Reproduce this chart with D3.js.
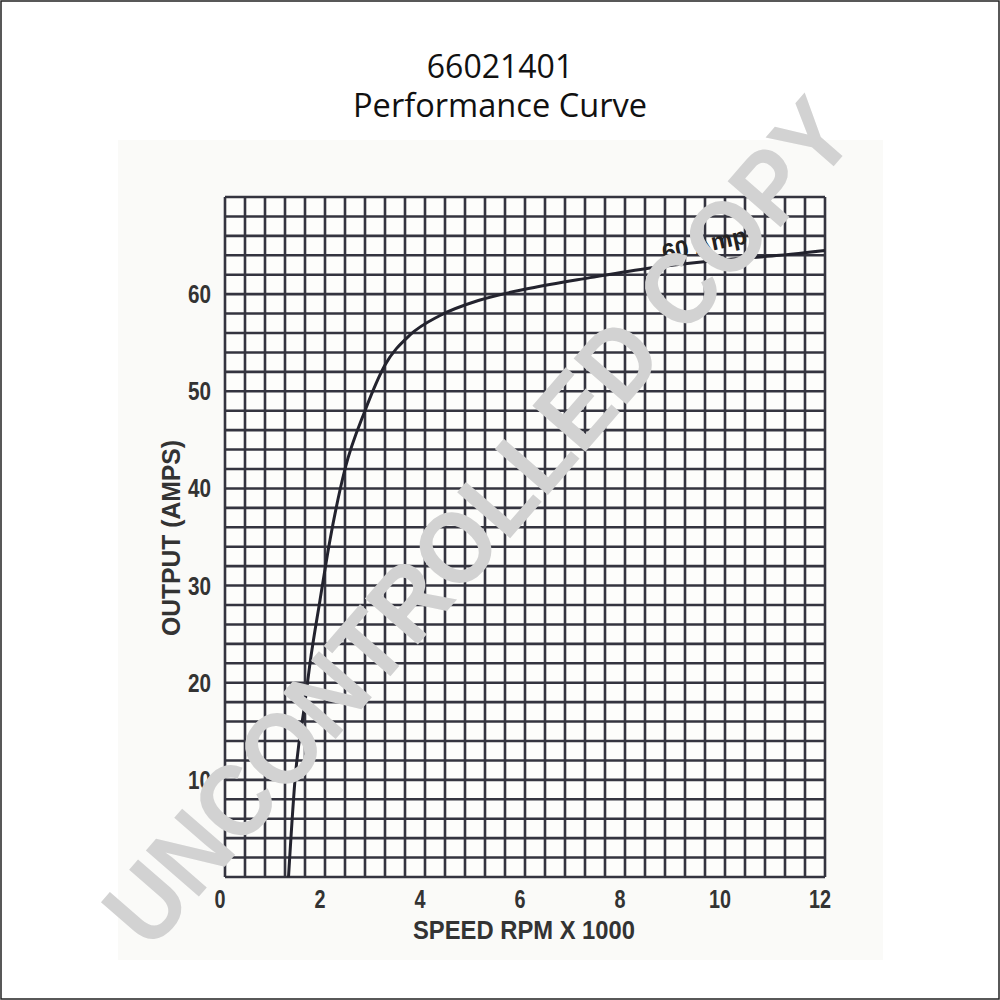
<!DOCTYPE html>
<html>
<head>
<meta charset="utf-8">
<script src="https://cdn.jsdelivr.net/npm/d3@7"></script>
<style>
  html, body { margin: 0; padding: 0; background: #fff; }
  svg { display: block; }
</style>
</head>
<body>
<script>
// ---- data ----
const rpm  = [1.27, 1.4, 1.6, 1.7, 1.9, 2.1, 2.4, 2.8, 3.2, 3.7, 4.3, 5.1, 6.1, 7.3, 8.5, 9.9, 11.1, 12];
const amps = [0, 10, 18, 22, 28.5, 34.7, 42, 48, 52.7, 55.8, 57.8, 59.4, 60.6, 61.7, 62.7, 63.5, 64, 64.5];
const xTicks = [0, 2, 4, 6, 8, 10, 12];
const yTicks = [10, 20, 30, 40, 50, 60];
const title1 = "66021401";
const title2 = "Performance Curve";
const xTitle = "SPEED RPM X 1000";
const yTitle = "OUTPUT (AMPS)";
const curveLabel = "60 Amp";
const watermark = "UNCONTROLLED COPY";

const W = 1000, H = 1000;
const svg = d3.select("body").append("svg").attr("width", W).attr("height", H);

// page border
svg.append("rect").attr("x", 1).attr("y", 1).attr("width", W - 2).attr("height", H - 2)
  .attr("fill", "#fff").attr("stroke", "#222").attr("stroke-width", 1.5);

// scanned paper area
svg.append("rect").attr("x", 118).attr("y", 140).attr("width", 765).attr("height", 820)
  .attr("fill", "#fafaf8");

const x = d3.scaleLinear().domain([0, 12]).range([225, 825]);
const y = d3.scaleLinear().domain([0, 70]).range([877, 197]);

const gridColor = "#34343f";
// grid
const g = svg.append("g");
g.append("rect").attr("x", x(0)).attr("y", y(70)).attr("width", x(12) - x(0)).attr("height", y(0) - y(70))
  .attr("fill", "#fdfdfb");
g.selectAll("line.v").data(d3.range(0, 12.0001, 0.4)).join("line")
  .attr("x1", d => x(d)).attr("x2", d => x(d)).attr("y1", y(0)).attr("y2", y(70))
  .attr("stroke", gridColor).attr("stroke-width", 2.6);
g.selectAll("line.h").data(d3.range(0, 70.0001, 2)).join("line")
  .attr("y1", d => y(d)).attr("y2", d => y(d)).attr("x1", x(0)).attr("x2", x(12))
  .attr("stroke", gridColor).attr("stroke-width", 2.6);

// curve
const pts = rpm.map((r, i) => [r, amps[i]]);
svg.append("path").datum(pts)
  .attr("d", d3.line().x(d => x(d[0])).y(d => y(d[1])).curve(d3.curveMonotoneX))
  .attr("fill", "none").attr("stroke", "#23232e").attr("stroke-width", 3);

const tickFont = "'Liberation Sans', Arial, sans-serif";
// x tick labels
svg.selectAll("text.xt").data(xTicks).join("text")
  .attr("x", d => x(d) - 5).attr("y", 908)
  .attr("text-anchor", "middle")
  .attr("font-family", tickFont).attr("font-weight", "bold").attr("font-size", 25)
  .attr("fill", "#333")
  .attr("textLength", d => String(d).length * 11).attr("lengthAdjust", "spacingAndGlyphs")
  .text(d => d);
// y tick labels
svg.selectAll("text.yt").data(yTicks).join("text")
  .attr("x", 211).attr("y", d => y(d) + 9)
  .attr("text-anchor", "end")
  .attr("font-family", tickFont).attr("font-weight", "bold").attr("font-size", 25)
  .attr("fill", "#333")
  .attr("textLength", d => String(d).length * 11.5).attr("lengthAdjust", "spacingAndGlyphs")
  .text(d => d);

// axis titles
svg.append("text").attr("x", 524).attr("y", 939).attr("text-anchor", "middle")
  .attr("font-family", tickFont).attr("font-weight", "bold").attr("font-size", 25)
  .attr("fill", "#333").attr("textLength", 222).attr("lengthAdjust", "spacingAndGlyphs")
  .text(xTitle);
svg.append("text").attr("transform", "translate(180,538) rotate(-90)").attr("text-anchor", "middle")
  .attr("font-family", tickFont).attr("font-weight", "bold").attr("font-size", 25)
  .attr("fill", "#333").attr("textLength", 196).attr("lengthAdjust", "spacingAndGlyphs")
  .text(yTitle);

// curve label
svg.append("text").attr("transform", "translate(664,261) rotate(-12)")
  .attr("font-family", tickFont).attr("font-weight", "bold").attr("font-size", 24)
  .attr("fill", "#222").attr("textLength", 86).attr("lengthAdjust", "spacingAndGlyphs")
  .text(curveLabel);

// titles
svg.append("text").attr("x", 500).attr("y", 78).attr("text-anchor", "middle")
  .attr("font-family", "'Open Sans', sans-serif").attr("font-size", 32).attr("fill", "#111")
  .text(title1);
svg.append("text").attr("x", 500).attr("y", 117).attr("text-anchor", "middle")
  .attr("font-family", "'Open Sans', sans-serif").attr("font-size", 32).attr("fill", "#111")
  .attr("textLength", 294).attr("lengthAdjust", "spacingAndGlyphs")
  .text(title2);

// watermark
svg.append("text").attr("transform", "translate(478,522) rotate(-49)")
  .attr("text-anchor", "middle").attr("dominant-baseline", "central")
  .attr("font-family", "'Liberation Sans', Arial, sans-serif").attr("font-weight", "bold")
  .attr("font-size", 102).attr("fill", "#d2d2d2")
  .attr("textLength", 1080).attr("lengthAdjust", "spacingAndGlyphs")
  .text(watermark);
</script>
</body>
</html>
